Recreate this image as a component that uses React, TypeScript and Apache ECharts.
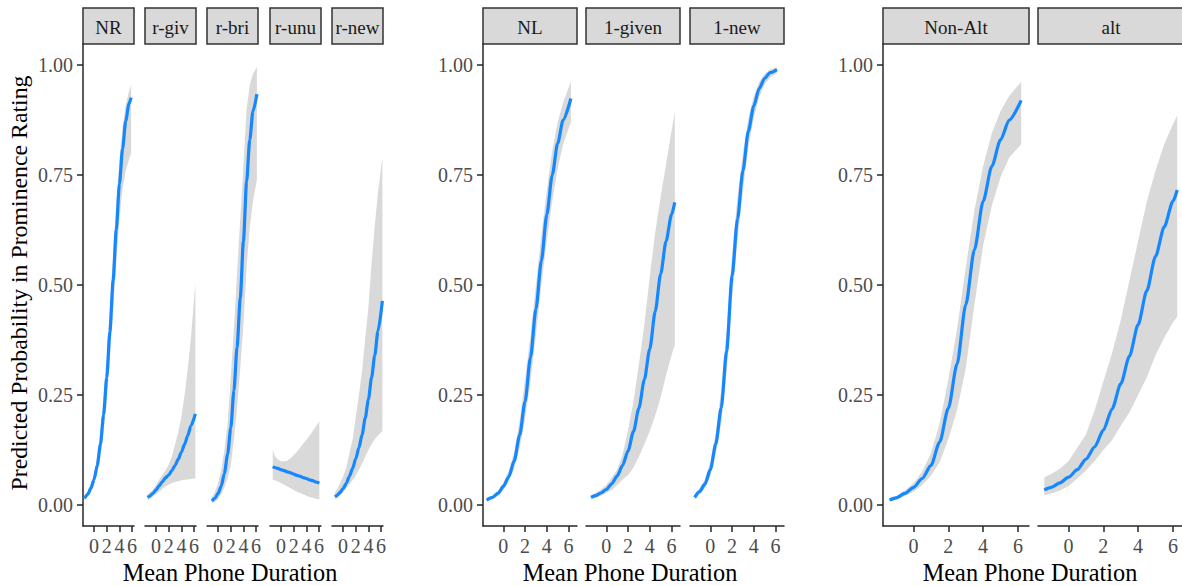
import React, { useEffect, useRef } from "react";
import * as echarts from "echarts";

// ---------------- DATA ----------------
const yTicks = [0, 0.25, 0.5, 0.75, 1];
const xTicks = [0, 2, 4, 6];
const xTitle = "Mean Phone Duration";
const yTitle = "Predicted Probability in Prominence Rating";

// Group 1
const NR_x = [-1.54, -1, -0.5, 0, 0.5, 1, 1.5, 2, 2.5, 3, 3.5, 4, 4.5, 5, 5.5, 5.85];
const NR_fit = [0.015, 0.024, 0.038, 0.058, 0.09, 0.138, 0.205, 0.29, 0.395, 0.51, 0.625, 0.73, 0.81, 0.873, 0.912, 0.926];
const NR_hi = [0.02, 0.03, 0.046, 0.07, 0.108, 0.165, 0.245, 0.34, 0.45, 0.57, 0.685, 0.785, 0.86, 0.91, 0.94, 0.955];
const NR_lo = [0.011, 0.018, 0.029, 0.046, 0.072, 0.11, 0.165, 0.24, 0.33, 0.44, 0.55, 0.65, 0.72, 0.76, 0.785, 0.8];

const RGIV_x = [-1.33, -1, -0.5, 0, 0.5, 1, 1.5, 2, 2.5, 3, 3.5, 4, 4.5, 5, 5.5, 6.2];
const RGIV_fit = [0.017, 0.02, 0.026, 0.034, 0.044, 0.053, 0.062, 0.068, 0.078, 0.09, 0.104, 0.12, 0.138, 0.158, 0.18, 0.207];
const RGIV_hi = [0.024, 0.028, 0.035, 0.045, 0.058, 0.068, 0.078, 0.092, 0.11, 0.138, 0.165, 0.2, 0.25, 0.31, 0.38, 0.505];
const RGIV_lo = [0.011, 0.014, 0.019, 0.024, 0.03, 0.036, 0.042, 0.046, 0.05, 0.052, 0.054, 0.056, 0.057, 0.058, 0.059, 0.06];

const RBRI_x = [-0.97, -0.5, 0, 0.5, 1, 1.5, 2, 2.5, 3, 3.5, 4, 4.5, 5, 5.5, 6.13];
const RBRI_fit = [0.009, 0.015, 0.026, 0.043, 0.072, 0.115, 0.175, 0.26, 0.36, 0.47, 0.6, 0.735, 0.83, 0.895, 0.934];
const RBRI_hi = [0.018, 0.03, 0.05, 0.08, 0.125, 0.185, 0.29, 0.4, 0.53, 0.65, 0.77, 0.9, 0.955, 0.98, 0.996];
const RBRI_lo = [0.004, 0.007, 0.013, 0.024, 0.04, 0.06, 0.09, 0.148, 0.22, 0.31, 0.41, 0.54, 0.63, 0.69, 0.74];

const RUNU_x = [-1.32, -1, -0.5, 0, 0.5, 1, 1.5, 2, 2.5, 3, 3.5, 4, 4.5, 5, 5.5, 6.04];
const RUNU_fit = [0.087, 0.085, 0.083, 0.08, 0.078, 0.075, 0.073, 0.07, 0.067, 0.065, 0.062, 0.06, 0.057, 0.055, 0.052, 0.05];
const RUNU_hi = [0.125, 0.112, 0.103, 0.099, 0.099, 0.101, 0.106, 0.113, 0.121, 0.13, 0.139, 0.148, 0.158, 0.168, 0.178, 0.19];
const RUNU_lo = [0.058, 0.056, 0.053, 0.05, 0.046, 0.042, 0.038, 0.034, 0.03, 0.027, 0.024, 0.021, 0.018, 0.016, 0.014, 0.012];

const RNEW_x = [-1.28, -1, -0.5, 0, 0.5, 1, 1.5, 2, 2.5, 3, 3.5, 4, 4.5, 5, 5.5, 6.2];
const RNEW_fit = [0.018, 0.021, 0.028, 0.037, 0.049, 0.065, 0.083, 0.105, 0.13, 0.16, 0.198, 0.24, 0.29, 0.34, 0.395, 0.464];
const RNEW_hi = [0.028, 0.034, 0.048, 0.064, 0.085, 0.118, 0.148, 0.2, 0.25, 0.305, 0.38, 0.45, 0.55, 0.635, 0.71, 0.79];
const RNEW_lo = [0.012, 0.015, 0.021, 0.029, 0.038, 0.047, 0.056, 0.067, 0.08, 0.094, 0.11, 0.125, 0.138, 0.149, 0.158, 0.168];

// Group 2
const NL_x = [-1.53, -1, -0.5, 0, 0.5, 1, 1.5, 2, 2.5, 3, 3.5, 4, 4.5, 5, 5.5, 6.22];
const NL_fit = [0.011, 0.017, 0.026, 0.042, 0.064, 0.1, 0.158, 0.235, 0.335, 0.445, 0.555, 0.66, 0.75, 0.822, 0.875, 0.924];
const NL_hi = [0.014, 0.02, 0.031, 0.05, 0.077, 0.12, 0.19, 0.285, 0.385, 0.5, 0.615, 0.715, 0.805, 0.87, 0.915, 0.962];
const NL_lo = [0.008, 0.013, 0.021, 0.034, 0.053, 0.082, 0.13, 0.195, 0.28, 0.385, 0.5, 0.6, 0.69, 0.765, 0.82, 0.87];

const GIVEN_x = [-1.41, -1, -0.5, 0, 0.5, 1, 1.5, 2, 2.5, 3, 3.5, 4, 4.5, 5, 5.5, 6, 6.3];
const GIVEN_fit = [0.017, 0.021, 0.027, 0.035, 0.048, 0.066, 0.09, 0.123, 0.167, 0.22, 0.285, 0.355, 0.44, 0.525, 0.6, 0.66, 0.688];
const GIVEN_hi = [0.022, 0.027, 0.035, 0.046, 0.062, 0.08, 0.115, 0.17, 0.235, 0.32, 0.41, 0.52, 0.62, 0.7, 0.775, 0.85, 0.892];
const GIVEN_lo = [0.013, 0.016, 0.021, 0.027, 0.034, 0.045, 0.058, 0.068, 0.085, 0.11, 0.138, 0.168, 0.203, 0.245, 0.296, 0.34, 0.364];

const NEW_x = [-1.44, -1, -0.5, 0, 0.5, 1, 1.5, 2, 2.5, 3, 3.5, 4, 4.5, 5, 5.5, 6.13];
const NEW_fit = [0.017, 0.03, 0.047, 0.08, 0.138, 0.22, 0.35, 0.52, 0.65, 0.76, 0.85, 0.907, 0.947, 0.97, 0.983, 0.99];
const NEW_hi = [0.022, 0.037, 0.058, 0.097, 0.165, 0.26, 0.4, 0.57, 0.7, 0.8, 0.88, 0.93, 0.962, 0.98, 0.99, 0.995];
const NEW_lo = [0.012, 0.023, 0.038, 0.065, 0.115, 0.185, 0.3, 0.47, 0.6, 0.715, 0.815, 0.88, 0.928, 0.956, 0.972, 0.982];

// Group 3
const NONALT_x = [-1.38, -1, -0.5, 0, 0.5, 1, 1.5, 2, 2.5, 3, 3.5, 4, 4.5, 5, 5.5, 6.19];
const NONALT_fit = [0.011, 0.016, 0.026, 0.04, 0.06, 0.09, 0.143, 0.22, 0.32, 0.455, 0.58, 0.69, 0.77, 0.83, 0.875, 0.92];
const NONALT_hi = [0.015, 0.02, 0.033, 0.05, 0.076, 0.118, 0.185, 0.285, 0.4, 0.54, 0.67, 0.77, 0.845, 0.895, 0.93, 0.962];
const NONALT_lo = [0.008, 0.011, 0.02, 0.03, 0.045, 0.066, 0.097, 0.15, 0.215, 0.31, 0.455, 0.59, 0.68, 0.745, 0.79, 0.82];

const ALT_x = [-1.4, -1, -0.5, 0, 0.5, 1, 1.5, 2, 2.5, 3, 3.5, 4, 4.5, 5, 5.5, 6, 6.25];
const ALT_fit = [0.034, 0.04, 0.05, 0.063, 0.08, 0.104, 0.132, 0.17, 0.218, 0.275, 0.338, 0.41, 0.487, 0.565, 0.632, 0.69, 0.716];
const ALT_hi = [0.063, 0.07, 0.082, 0.1, 0.13, 0.16, 0.215, 0.28, 0.345, 0.42, 0.51, 0.6, 0.69, 0.76, 0.82, 0.865, 0.886];
const ALT_lo = [0.022, 0.026, 0.033, 0.043, 0.06, 0.078, 0.1, 0.125, 0.147, 0.18, 0.21, 0.25, 0.29, 0.34, 0.38, 0.415, 0.428];

// ---------------- LAYOUT ----------------
const FONT = "'Liberation Serif', 'Times New Roman', 'DejaVu Serif', serif";
const LINE_COLOR = "#1587ff";
const RIBBON_COLOR = "#d9d9d9";
const AXIS_COLOR = "#262626";
const TICK_TEXT = "#4d4d4d";
const PLOT_TOP = 44;
const PLOT_H = 482;
const STRIP_TOP = 8;
const STRIP_H = 36;
const Y_MIN = -0.048;
const Y_MAX = 1.048;

const groups = [
  { xmin: -1.75, xmax: 6.3, width: 51, titleX: 230 },
  { xmin: -1.87, xmax: 6.78, width: 94, titleX: 630 },
  { xmin: -1.76, xmax: 6.64, width: 146, titleX: 1030 },
];

const panels = [
  { label: "NR", g: 0, left: 83, first: true, x: NR_x, fit: NR_fit, hi: NR_hi, lo: NR_lo },
  { label: "r-giv", g: 0, left: 145, first: false, x: RGIV_x, fit: RGIV_fit, hi: RGIV_hi, lo: RGIV_lo },
  { label: "r-bri", g: 0, left: 207, first: false, x: RBRI_x, fit: RBRI_fit, hi: RBRI_hi, lo: RBRI_lo },
  { label: "r-unu", g: 0, left: 270, first: false, x: RUNU_x, fit: RUNU_fit, hi: RUNU_hi, lo: RUNU_lo },
  { label: "r-new", g: 0, left: 332, first: false, x: RNEW_x, fit: RNEW_fit, hi: RNEW_hi, lo: RNEW_lo },
  { label: "NL", g: 1, left: 483, first: true, x: NL_x, fit: NL_fit, hi: NL_hi, lo: NL_lo },
  { label: "1-given", g: 1, left: 586, first: false, x: GIVEN_x, fit: GIVEN_fit, hi: GIVEN_hi, lo: GIVEN_lo },
  { label: "1-new", g: 1, left: 690, first: false, x: NEW_x, fit: NEW_fit, hi: NEW_hi, lo: NEW_lo },
  { label: "Non-Alt", g: 2, left: 883, first: true, x: NONALT_x, fit: NONALT_fit, hi: NONALT_hi, lo: NONALT_lo },
  { label: "alt", g: 2, left: 1038, first: false, x: ALT_x, fit: ALT_fit, hi: ALT_hi, lo: ALT_lo },
];

function buildOption() {
  const grid: any[] = [];
  const xAxis: any[] = [];
  const yAxis: any[] = [];
  const series: any[] = [];
  const graphic: any[] = [];
  const axisLine = { show: true, onZero: false, lineStyle: { color: AXIS_COLOR, width: 1.5 } };

  panels.forEach((p, i) => {
    const g = groups[p.g];
    grid.push({ left: p.left, top: PLOT_TOP, width: g.width, height: PLOT_H, outerBoundsMode: "none", containLabel: false });
    xAxis.push({
      type: "value",
      gridIndex: i,
      min: g.xmin,
      max: g.xmax,
      axisLine,
      axisTick: { show: true, length: 6, customValues: xTicks, lineStyle: { color: AXIS_COLOR, width: 1.5 } },
      axisLabel: { show: true, customValues: xTicks, color: TICK_TEXT, fontSize: 20, fontFamily: FONT, margin: 10 },
      splitLine: { show: false },
    });
    yAxis.push({
      type: "value",
      gridIndex: i,
      min: Y_MIN,
      max: Y_MAX,
      show: p.first,
      axisLine,
      axisTick: { show: true, length: 6, customValues: yTicks, lineStyle: { color: AXIS_COLOR, width: 1.5 } },
      axisLabel: {
        show: true,
        customValues: yTicks,
        color: TICK_TEXT,
        fontSize: 20,
        fontFamily: FONT,
        margin: 10,
        formatter: (v: number) => v.toFixed(2),
      },
      splitLine: { show: false },
    });
    const xs = p.x, hi = p.hi, lo = p.lo;
    series.push({
      type: "custom",
      xAxisIndex: i,
      yAxisIndex: i,
      silent: true,
      z: 1,
      data: [[xs[0], lo[0]]],
      renderItem: (params: any, api: any) => {
        if (params.dataIndex !== 0) return null;
        const pts: number[][] = [];
        for (let k = 0; k < xs.length; k++) pts.push(api.coord([xs[k], hi[k]]));
        for (let k = xs.length - 1; k >= 0; k--) pts.push(api.coord([xs[k], lo[k]]));
        return { type: "polygon", shape: { points: pts }, style: { fill: RIBBON_COLOR, stroke: null } };
      },
    });
    series.push({
      type: "line",
      xAxisIndex: i,
      yAxisIndex: i,
      z: 3,
      showSymbol: false,
      silent: true,
      smooth: 0.25,
      smoothMonotone: "x",
      lineStyle: { color: LINE_COLOR, width: 3.2 },
      data: p.x.map((v, k) => [v, p.fit[k]]),
    });
    // strip
    graphic.push({
      type: "rect",
      shape: { x: p.left, y: STRIP_TOP, width: g.width, height: STRIP_H },
      style: { fill: "#d9d9d9", stroke: "#333333", lineWidth: 1.5 },
      silent: true,
    });
    graphic.push({
      type: "text",
      x: p.left + g.width / 2,
      y: STRIP_TOP + STRIP_H / 2 + 1,
      style: {
        text: p.label,
        font: `19px ${FONT}`,
        fill: "#1a1a1a",
        align: "center",
        verticalAlign: "middle",
        textAlign: "center",
        textVerticalAlign: "middle",
      },
      silent: true,
    });
  });

  groups.forEach((g) => {
    graphic.push({
      type: "text",
      x: g.titleX,
      y: 572,
      style: {
        text: xTitle,
        font: `24.3px ${FONT}`,
        fill: "#000",
        align: "center",
        verticalAlign: "middle",
        textAlign: "center",
        textVerticalAlign: "middle",
      },
      silent: true,
    });
  });
  graphic.push({
    type: "text",
    x: 19,
    y: 283,
    rotation: Math.PI / 2,
    style: {
      text: yTitle,
      font: `23.8px ${FONT}`,
      fill: "#000",
      align: "center",
      verticalAlign: "middle",
      textAlign: "center",
      textVerticalAlign: "middle",
    },
    silent: true,
  });

  return { animation: false, backgroundColor: "#ffffff", grid, xAxis, yAxis, series, graphic };
}

export default function App() {
  const ref = useRef<HTMLDivElement>(null);
  useEffect(() => {
    if (!ref.current) return;
    const chart = echarts.init(ref.current, undefined, { renderer: "svg" });
    chart.setOption(buildOption() as any);
    return () => chart.dispose();
  }, []);
  return (
    <div
      ref={ref}
      style={{ position: "fixed", left: 0, top: 0, width: 1182, height: 586, background: "#fff" }}
    />
  );
}
